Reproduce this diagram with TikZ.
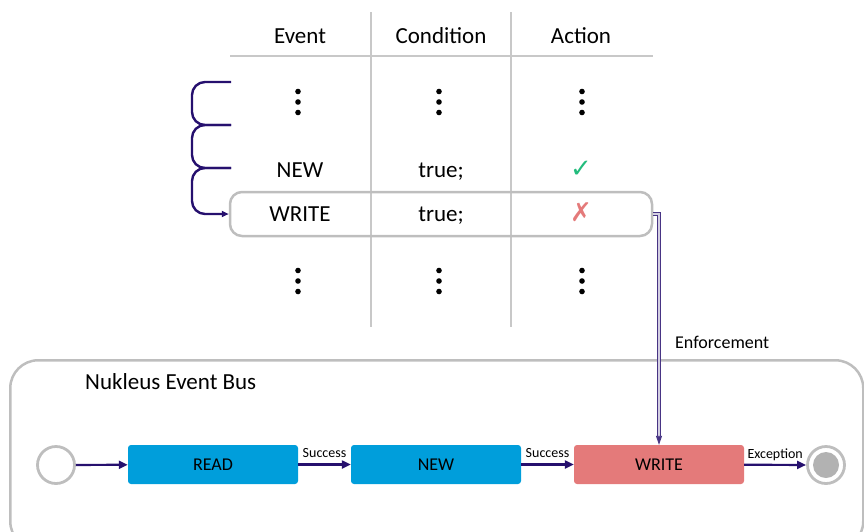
\documentclass[tikz,border=0pt]{standalone}
\usepackage{fontspec}
\setmainfont{Carlito}
\newfontfamily\symfont{DejaVu Sans}
\usetikzlibrary{arrows.meta,positioning}

\definecolor{busnavy}{RGB}{38,16,110}
\definecolor{rulegray}{RGB}{200,200,200}
\definecolor{framegray}{RGB}{190,190,190}
\definecolor{readblue}{RGB}{0,158,219}
\definecolor{writered}{RGB}{228,122,122}
\definecolor{okgreen}{RGB}{35,188,125}
\definecolor{endgray}{RGB}{178,178,178}

\newcommand{\threedots}{\tikz\foreach\k in {0,1,2}{\fill (0pt,{-10.5pt*\k}) circle (2.8pt);};}

\begin{document}
\begin{tikzpicture}[x=1pt,y=-1pt,
  cell/.style={font=\fontsize{23}{27}\selectfont, inner sep=0pt, anchor=base},
  dotcell/.style={inner sep=0pt},
  tablerule/.style={draw=rulegray, line width=2.5pt},
  stagebox/.style={minimum width=170pt, minimum height=39pt, rounded corners=3pt, inner sep=0pt, font=\fontsize{18}{22}\selectfont},
  flow/.style={draw=busnavy, line width=2.2pt, -{Triangle[length=9pt,width=8pt]}},
  flowlabel/.style={above, inner sep=5.5pt, text depth=0pt, font=\fontsize{14}{16}\selectfont},
  brace/.style={draw=busnavy, line width=2.4pt, rounded corners=13pt},
  enforce/.style={draw=busnavy!85, double=busnavy!20, line width=0.9pt, double distance=1.3pt, -{Triangle[length=9pt,width=6pt]}},
  ring/.style={circle, draw=framegray, line width=2.8pt, minimum size=37pt, inner sep=0pt}]
\clip (0,0) rectangle (864,531);

% rule table
\draw[tablerule] (230,56) -- (653,56);
\draw[tablerule] (371,12) -- (371,327);
\draw[tablerule] (511,12) -- (511,327);
\node[cell] (hevent) at (300,43.5) {Event};
\node[cell] (hcond) at (441,43.5) {Condition};
\node[cell] (haction) at (581,43.5) {Action};
\node[dotcell] (r1e) at (298,102) {\threedots};
\node[dotcell] (r1c) at (439,102) {\threedots};
\node[dotcell] (r1a) at (582,102) {\threedots};
\node[cell] (newe) at (300,177) {NEW};
\node[cell] (newc) at (441,177) {true;};
\node[cell, text=okgreen, font=\symfont\fontsize{26}{30}\selectfont] (newa) at (581,177) {✓};
\node[cell] (wre) at (300,221) {WRITE};
\node[cell] (wrc) at (441,221) {true;};
\node[cell, text=writered, font=\symfont\fontsize{26}{30}\selectfont] (wra) at (581,221) {✗};
\node[dotcell] (r4e) at (298,281) {\threedots};
\node[dotcell] (r4c) at (439,281) {\threedots};
\node[dotcell] (r4a) at (582,281) {\threedots};
\node[draw=framegray, line width=2.5pt, rounded corners=12pt, minimum width=422pt, minimum height=44pt] (wrrow) at (441,214) {};

% rule evaluation order
\coordinate (b1) at (231,82);
\coordinate (b2) at (231,125);
\coordinate (b3) at (231,168);
\draw[brace] (b1) -- ++(-39,0) |- (b2);
\draw[brace] (b2) -- ++(-39,0) |- (b3);
\draw[brace, -{Triangle[length=7pt,width=6pt]}] (b3) -- ++(-39,0) |- (wrrow.west);

% event bus
\node[draw=framegray, line width=2.5pt, rounded corners=28pt, minimum width=853pt, minimum height=189pt, anchor=north west] (bus) at (9,359) {};
\node[anchor=base west, inner sep=0pt, font=\fontsize{23}{27}\selectfont] (bustitle) at (85,389) {Nukleus Event Bus};
\node[ring] (start) at (56,465) {};
\node[stagebox, fill=readblue] (read) at (213,464.5) {READ};
\node[stagebox, fill=readblue] (new) at (436,464.5) {NEW};
\node[stagebox, fill=writered] (write) at (659,464.5) {WRITE};
\node[ring] (stop) at (826,465) {};
\node[circle, fill=endgray, minimum size=26pt, inner sep=0pt] (stopdot) at (stop) {};
\draw[flow] (start) -- (read);
\draw[flow] (read) -- node[flowlabel] (succ1) {Success} (new);
\draw[flow] (new) -- node[flowlabel] (succ2) {Success} (write);
\draw[flow] (write) -- node[flowlabel] (exc) {Exception} (stop);

% enforcement
\draw[enforce] (wrrow.east) -| (write.north);
\node[anchor=base west, inner sep=0pt, font=\fontsize{18}{22}\selectfont] (enflabel) at (675,348) {Enforcement};
\end{tikzpicture}
\end{document}
